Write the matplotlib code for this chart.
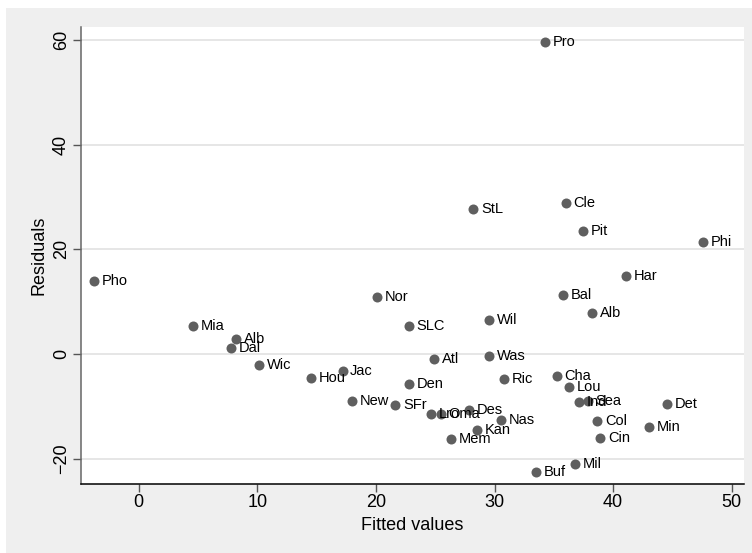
import matplotlib.pyplot as plt
from matplotlib.patches import Rectangle

# data: fitted values, residuals and city labels
cities = ["Pro", "Cle", "StL", "Pit", "Phi", "Har", "Pho", "Bal", "Nor", "Alb",
          "Wil", "Mia", "SLC", "Alb", "Dal", "Wic", "Hou", "Jac", "New", "SFr",
          "Atl", "Was", "Den", "Ric", "Cha", "Lou", "Ind", "Sea", "Det", "Col",
          "Min", "Cin", "Mil", "Buf", "Lro", "Oma", "Des", "Nas", "Kan", "Mem"]
fitted = [34.26, 36.03, 28.21, 37.49, 47.55, 41.06, -3.77, 35.80, 20.09, 38.25,
          29.54, 4.55, 22.79, 8.20, 7.76, 10.14, 14.50, 17.18, 18.02, 21.64,
          24.93, 29.56, 22.79, 30.80, 35.24, 36.26, 37.12, 37.86, 44.52, 38.67,
          43.03, 38.92, 36.82, 33.50, 24.66, 25.46, 27.85, 30.55, 28.54, 26.33]
resid = [59.5, 28.9, 27.7, 23.5, 21.4, 14.9, 13.9, 11.2, 10.9, 7.8,
         6.5, 5.4, 5.4, 2.8, 1.2, -2.1, -4.5, -3.2, -9.0, -9.7,
         -1.0, -0.3, -5.8, -4.8, -4.2, -6.2, -9.2, -8.9, -9.5, -12.7,
         -14.0, -16.0, -20.9, -22.6, -11.5, -11.5, -10.7, -12.6, -14.4, -16.2]

xticks = [0, 10, 20, 30, 40, 50]
yticks = [-20, 0, 20, 40, 60]

plt.rcParams['font.family'] = ['Liberation Sans', 'DejaVu Sans']

fig = plt.figure(figsize=(7.52, 5.53), dpi=100, facecolor="white")
fig.patches.append(Rectangle((6 / 752, 0), 1 - 6 / 752, 1 - 8 / 553,
                             transform=fig.transFigure, facecolor="#efefef",
                             edgecolor="none", zorder=-10))

ax = fig.add_axes([81 / 752, 1 - 484 / 553, (744.3 - 81) / 752, (484 - 27.3) / 553])
ax.set_facecolor("white")

ax.scatter(fitted, resid, s=7.2 ** 2, color="#5f5f5f", zorder=3, linewidths=0)
for name, x, y in zip(cities, fitted, resid):
    ax.annotate(name, (x, y), xytext=(5.5, 0), textcoords="offset points",
                va="center", ha="left", fontsize=10.5, color="black", zorder=4)

ax.set_xlim(-4.87, 51.06)
ax.set_ylim(-24.8, 62.4)
ax.set_xticks(xticks)
ax.set_yticks(yticks)
ax.grid(axis="y", color="#e6e6e6", linewidth=1.4)
ax.set_axisbelow(True)

for s in ["top", "right"]:
    ax.spines[s].set_visible(False)
ax.spines["left"].set_color("#666666")
ax.spines["bottom"].set_color("black")
ax.spines["left"].set_linewidth(1.1)
ax.spines["bottom"].set_linewidth(1.1)

ax.tick_params(axis="x", direction="out", length=6, width=1, color="#555555",
               labelsize=13, pad=1.5)
ax.tick_params(axis="y", direction="out", length=6, width=1, color="#555555",
               labelsize=13, pad=2)
for lab in ax.get_yticklabels():
    lab.set_rotation(90)
    lab.set_va("center")

ax.set_xlabel("Fitted values", fontsize=13, labelpad=4)
ax.set_ylabel("Residuals", fontsize=13, labelpad=4)

fig.savefig("out.png", dpi=100, facecolor=fig.get_facecolor())
